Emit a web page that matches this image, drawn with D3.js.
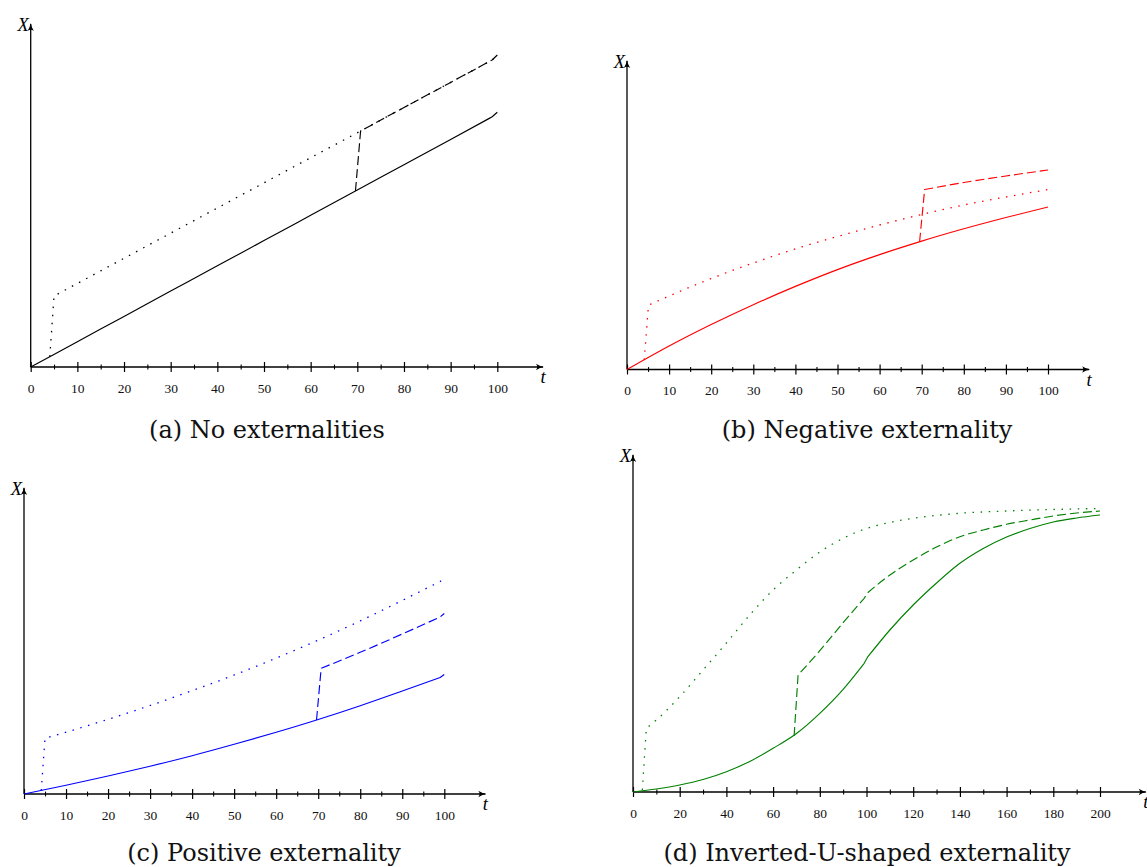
<!DOCTYPE html>
<html><head><meta charset="utf-8">
<script src="https://cdn.jsdelivr.net/npm/d3@7"></script>
<style>body{margin:0;background:#fff} svg{display:block}</style>
</head><body>
<svg id="chart" width="1147" height="867"></svg>
<script>
// ---------- data (X values in arbitrary units) ----------
const ticksA = [0, 10, 20, 30, 40, 50, 60, 70, 80, 90, 100];
const minorA = [5, 15, 25, 35, 45, 55, 65, 75, 85, 95];
const ticksD = [0, 20, 40, 60, 80, 100, 120, 140, 160, 180, 200];
const minorD = [10, 30, 50, 70, 90, 110, 130, 150, 170, 190];

const captions = ["(a) No externalities", "(b) Negative externality",
                  "(c) Positive externality", "(d) Inverted-U-shaped externality"];

// (a) No externalities
const aSolidT  = [0, 10, 20, 30, 40, 50, 60, 69.6, 80, 90, 98.9, 100];
const aSolidX  = [0, 25.3, 50.6, 75.9, 101.2, 126.4, 151.7, 176, 202.3, 227.6, 250.2, 254.7];
const aDottedT = [4.1, 5, 20, 40, 60, 70.7, 80, 90, 98.9, 100];
const aDottedX = [10.4, 71, 108.7, 159, 209.3, 236, 259.5, 284.6, 307, 312];
const aDashedT = [69.6, 70.7, 80, 90, 98.9, 100];
const aDashedX = [176, 236, 259.5, 284.6, 307, 312];

// (b) Negative externality
const bSolidT  = [0, 10, 20, 30, 40, 50, 60, 70, 80, 90, 100];
const bSolidX  = [0, 23.5, 45, 64.8, 83.1, 99.9, 114.9, 128.4, 140.7, 152, 162.5];
const bDottedT = [4.1, 5.1, 10, 20, 30, 40, 50, 60, 70, 80, 90, 100];
const bDottedX = [9.6, 64.3, 73.5, 91, 106.5, 120.6, 133, 144.5, 155, 164.5, 172.5, 180];
const bDashedT = [69.5, 70.7, 80, 90, 100];
const bDashedX = [127.8, 180, 187, 193.5, 199.5];

// (c) Positive externality
const cSolidT  = [0, 10, 20, 30, 40, 50, 60, 70, 80, 90, 99, 100];
const cSolidX  = [0, 8.7, 18, 27.8, 38.3, 49.7, 61.7, 74.5, 88.3, 103, 116.5, 119.5];
const cDottedT = [4.1, 5, 10, 20, 30, 40, 50, 60, 70, 80, 90, 99, 100];
const cDottedX = [3.5, 55.7, 61.8, 74.7, 88.5, 103.3, 119, 135.9, 153.9, 173.1, 193.6, 212.5, 216];
const cDashedT = [69.6, 70.7, 80, 90, 99, 100];
const cDashedX = [74, 125.7, 141.7, 160, 177, 180.5];

// (d) Inverted-U-shaped externality
const dSolidT  = [0, 10, 20, 30, 40, 50, 60, 70, 80, 90, 99, 100.5, 110, 120, 130, 140, 150, 160, 170, 180, 190, 200];
const dSolidX  = [0, 3, 7, 12.5, 20.3, 30.5, 43.7, 58.5, 78.7, 102.7, 128.7, 135, 162, 187, 209, 228.7, 243.5, 255, 263.5, 270, 274, 277];
const dDottedT = [4, 5.7, 10, 20, 30, 40, 50, 60, 70, 80, 90, 100, 110, 120, 140, 160, 180, 200];
const dDottedX = [2, 63.7, 72, 95.3, 122, 149, 177, 202, 222, 240, 253.7, 263.5, 269.5, 273.7, 278.7, 281, 282.5, 283.5];
const dDashedT = [69, 70.7, 80, 90, 99, 100.5, 110, 120, 130, 140, 150, 160, 170, 180, 190, 200];
const dDashedX = [56, 117, 141.3, 169.3, 193.7, 199.3, 217, 232, 245, 255.3, 262, 267.7, 272, 276, 279, 281];

// ---------- drawing ----------
const svg = d3.select("#chart");
const SERIF = "'Liberation Serif', 'Times New Roman', serif";
const CAPFONT = "'DejaVu Serif', serif";

function panel(cfg) {
  const g = svg.append("g");
  const x = d3.scaleLinear().domain([0, cfg.tMax]).range([cfg.x0, cfg.x1]);
  const y = d3.scaleLinear().domain([0, cfg.yMax]).range([cfg.axisY, cfg.top]);
  const xTip = x(cfg.tMax * 1.1);
  const shortSeg = cfg.tMax * 0.017;

  // major ticks + labels
  const major = d3.axisBottom(x).tickValues(cfg.major).tickSizeInner(5).tickSizeOuter(0)
    .tickPadding(11).tickFormat(d3.format("d"));
  const gm = g.append("g").attr("transform", `translate(0,${cfg.axisY})`).call(major);
  gm.select(".domain").remove();
  gm.selectAll("line").attr("y1", -5).attr("y2", 5).attr("stroke", "#000").attr("stroke-width", 1.2);
  gm.selectAll("text").attr("font-family", SERIF).attr("font-size", 13.5).attr("fill", "#111");

  // minor ticks
  const minor = d3.axisBottom(x).tickValues(cfg.minor).tickSizeInner(2.4).tickSizeOuter(0).tickFormat("");
  const gn = g.append("g").attr("transform", `translate(0,${cfg.axisY})`).call(minor);
  gn.select(".domain").remove();
  gn.selectAll("line").attr("y1", -2.4).attr("y2", 2.4).attr("stroke", "#000").attr("stroke-width", 1.1);

  // axis lines
  g.append("line").attr("x1", x(0)).attr("x2", xTip - 1).attr("y1", cfg.axisY).attr("y2", cfg.axisY)
    .attr("stroke", "#000").attr("stroke-width", 1.3);
  g.append("line").attr("x1", x(0)).attr("x2", x(0)).attr("y1", cfg.axisY).attr("y2", cfg.top + 1)
    .attr("stroke", "#000").attr("stroke-width", 1.3);
  // arrow heads
  const ax = xTip, ay = cfg.axisY;
  g.append("path").attr("d", `M${ax},${ay} Q${ax-4},${ay-0.6} ${ax-8},${ay-3.2} Q${ax-5.5},${ay} ${ax-8},${ay+3.2} Q${ax-4},${ay+0.6} ${ax},${ay}Z`)
    .attr("fill", "#000");
  const vx = x(0), vy = cfg.top;
  g.append("path").attr("d", `M${vx},${vy} Q${vx-0.6},${vy+4} ${vx-3.2},${vy+8} Q${vx},${vy+5.5} ${vx+3.2},${vy+8} Q${vx+0.6},${vy+4} ${vx},${vy}Z`)
    .attr("fill", "#000");

  // axis names
  g.append("text").attr("x", x(0) - 2).attr("y", cfg.top + 8).attr("text-anchor", "end")
    .attr("font-family", SERIF).attr("font-style", "italic").attr("font-size", 18.5).text("X");
  g.append("text").attr("x", xTip - 1).attr("y", cfg.axisY + 16).attr("text-anchor", "middle")
    .attr("font-family", SERIF).attr("font-style", "italic").attr("font-size", 18.5).text("t");

  // curves: short segments (jumps, end hooks, kinks) stay straight, long runs are smoothed
  const lin = d3.line();
  const smooth = d3.line().curve(d3.curveMonotoneX);
  function draw(ts, vs, dash, width) {
    const pts = ts.map((t, i) => [x(t), y(vs[i])]);
    const runs = [];
    let cur = [pts[0]], curShort = null;
    for (let i = 1; i < pts.length; i++) {
      const isShort = (ts[i] - ts[i - 1]) < shortSeg;
      if (curShort === null || curShort === isShort) { cur.push(pts[i]); curShort = isShort; }
      else { runs.push({pts: cur, short: curShort}); cur = [pts[i - 1], pts[i]]; curShort = isShort; }
    }
    runs.push({pts: cur, short: curShort});
    let d = "";
    runs.forEach((r, k) => {
      let s = (r.short || r.pts.length < 3) ? lin(r.pts) : smooth(r.pts);
      if (k > 0) s = s.replace(/^M[^A-Za-z]*/, "");
      d += s;
    });
    g.append("path").attr("d", d).attr("fill", "none").attr("stroke", cfg.color)
      .attr("stroke-width", width).attr("stroke-dasharray", dash).attr("stroke-linejoin", "round");
  }
  draw(cfg.dotT, cfg.dotX, "1.5,6.6", 1.3);
  draw(cfg.dashT, cfg.dashX, "9,4", 1.15);
  draw(cfg.solT, cfg.solX, null, 1.15);

  // caption
  svg.append("text").attr("x", cfg.capX).attr("y", cfg.capY).attr("text-anchor", "middle")
    .attr("font-family", CAPFONT).attr("font-size", 24).attr("fill", "#111").text(cfg.caption);
}

panel({x0: 30.7, x1: 497.3, tMax: 100, axisY: 367, top: 23, yMax: 344, major: ticksA, minor: minorA,
  color: "#000000", solT: aSolidT, solX: aSolidX, dotT: aDottedT, dotX: aDottedX, dashT: aDashedT, dashX: aDashedX,
  caption: captions[0], capX: 267, capY: 438});
panel({x0: 627, x1: 1048, tMax: 100, axisY: 369.5, top: 60, yMax: 309.5, major: ticksA, minor: minorA,
  color: "#ff0000", solT: bSolidT, solX: bSolidX, dotT: bDottedT, dotX: bDottedX, dashT: bDashedT, dashX: bDashedX,
  caption: captions[1], capX: 867, capY: 438});
panel({x0: 24, x1: 444.3, tMax: 100, axisY: 794, top: 487, yMax: 307, major: ticksA, minor: minorA,
  color: "#0000ff", solT: cSolidT, solX: cSolidX, dotT: cDottedT, dotX: cDottedX, dashT: cDashedT, dashX: cDashedX,
  caption: captions[2], capX: 264, capY: 861});
panel({x0: 633, x1: 1100, tMax: 200, axisY: 792, top: 454, yMax: 338, major: ticksD, minor: minorD,
  color: "#008000", solT: dSolidT, solX: dSolidX, dotT: dDottedT, dotX: dDottedX, dashT: dDashedT, dashX: dDashedX,
  caption: captions[3], capX: 867, capY: 861});
</script>
</body></html>
